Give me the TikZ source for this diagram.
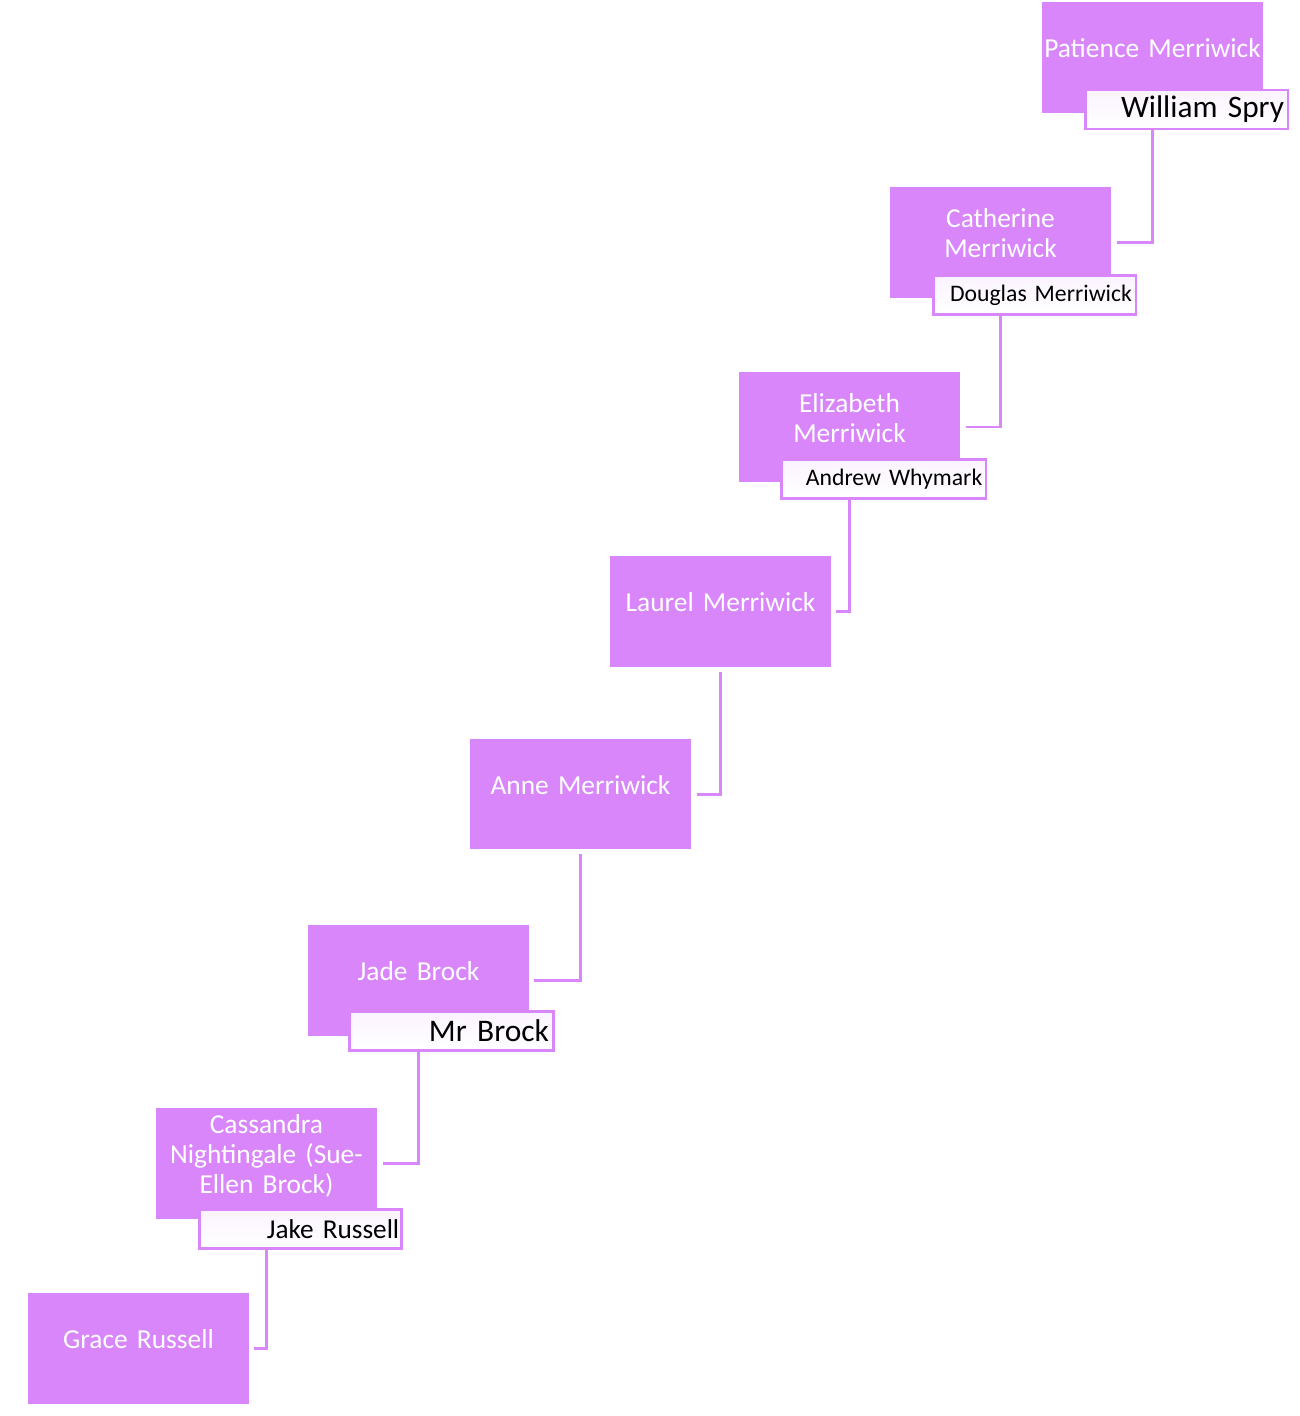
\documentclass[tikz,border=0pt]{standalone}
\usepackage{fontspec}
\setmainfont{Carlito}
\usepackage{tikz}
\usetikzlibrary{positioning,calc}
\definecolor{boxviolet}{HTML}{D986FA}
\newcommand{\raisetext}{\rule[-0.37cm]{0pt}{0.37cm}}

\begin{document}
\begin{tikzpicture}[x=0.02cm,y=-0.02cm]
\tikzstyle{person}=[fill=boxviolet,align=center,text=white,minimum width=4.42cm,minimum height=2.22cm,text width=4.42cm,inner sep=0pt,font=\fontsize{15.6}{17}\selectfont,execute at end node=\raisetext]
\tikzstyle{spouse}=[draw=boxviolet,line width=1.7pt,top color=boxviolet!10,bottom color=white,align=right,text=black,minimum width=4.06cm,minimum height=0.78cm,inner sep=0pt]
\tikzstyle{link}=[draw=boxviolet,line width=1.7pt]
\useasboundingbox (0,0) rectangle (1300,1416);
% generations
\node[person] (patience) at (1152.5,57.5) {Patience Merriwick};
\node[spouse,text width=3.9cm,font=\fontsize{17.8}{19}\selectfont] (spry) at (1186.5,109.5) {William Spry};
\node[person] (catherine) at (1000.5,242.5) {Catherine\\Merriwick};
\node[spouse,text width=3.9cm,font=\fontsize{13.5}{15}\selectfont] (douglas) at (1034.5,295) {Douglas Merriwick};
\node[person] (elizabeth) at (849.5,427) {Elizabeth\\Merriwick};
\node[spouse,minimum width=4.1cm,text width=3.95cm,font=\fontsize{13.5}{15}\selectfont] (andrew) at (883.5,479) {Andrew Whymark};
\node[person] (laurel) at (720.5,611.5) {Laurel Merriwick};
\node[person] (anne) at (580.5,794) {Anne Merriwick};
\node[person] (jade) at (418.5,980) {Jade Brock};
\node[spouse,minimum width=4.1cm,text width=3.9cm,font=\fontsize{17.9}{19}\selectfont] (brock) at (451.5,1031) {Mr Brock};
\node[person] (cassandra) at (266.5,1163) {Cassandra\\Nightingale (Sue-\\Ellen Brock)};
\node[spouse,text width=3.95cm,font=\fontsize{15.5}{17}\selectfont] (jake) at (300.5,1229) {Jake Russell};
\node[person] (grace) at (138.5,1348.5) {Grace Russell};
% descent lines
\draw[link] (patience.south |- spry.south) |- ([xshift=0.12cm]catherine.east);
\draw[link] (catherine.south |- douglas.south) |- ([xshift=0.12cm]elizabeth.east);
\draw[link] (elizabeth.south |- andrew.south) |- ([xshift=0.1cm]laurel.east);
\draw[link] ([yshift=-0.1cm]laurel.south) |- ([xshift=0.12cm]anne.east);
\draw[link] ([yshift=-0.08cm]anne.south) |- ([xshift=0.1cm]jade.east);
\draw[link] (jade.south |- brock.south) |- ([xshift=0.12cm]cassandra.east);
\draw[link] (cassandra.south |- jake.south) |- ([xshift=0.1cm]grace.east);
\end{tikzpicture}
\end{document}
